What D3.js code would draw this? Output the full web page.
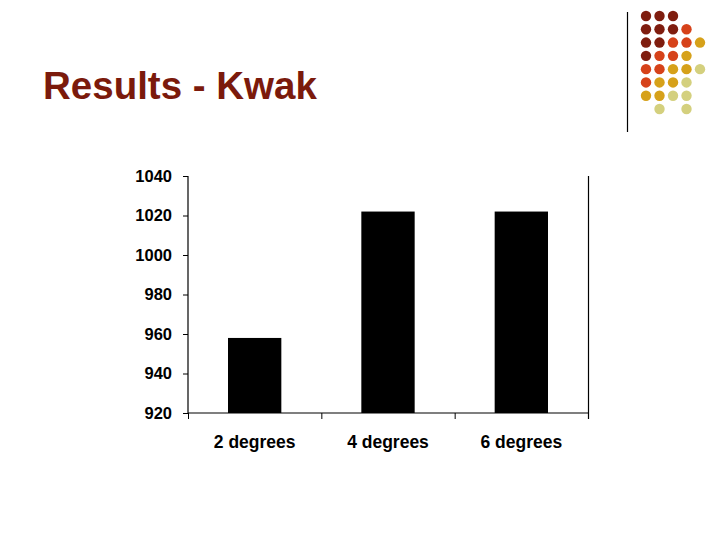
<!DOCTYPE html>
<html><head><meta charset="utf-8">
<script src="https://cdn.jsdelivr.net/npm/d3@7"></script>
<style>body{margin:0;background:#fff;}svg{display:block;}</style>
</head><body>
<svg id="c" width="720" height="540"></svg>
<script>
const title = "Results - Kwak";
const categories = ["2 degrees", "4 degrees", "6 degrees"];
const values = [958, 1022, 1022];
const yTicks = [920, 940, 960, 980, 1000, 1020, 1040];
const yDomain = [920, 1040];
// decorative dot grid: color keys per row ("" = empty)
const dotRows = [
  ["d","d","d","",""],
  ["d","d","d","o",""],
  ["d","d","o","o","g"],
  ["d","o","o","g",""],
  ["o","o","g","g","p"],
  ["o","g","g","p",""],
  ["g","g","p","p",""],
  ["","p","","p",""]
];
const dotColors = {d:"#7f1d0f", o:"#d6421a", g:"#d6a11a", p:"#d4d07e"};

(function(){
const svg = d3.select("#c");
svg.append("rect").attr("width",720).attr("height",540).attr("fill","#fff");

// decoration
svg.append("line").attr("x1",627.5).attr("x2",627.5).attr("y1",12).attr("y2",132)
  .attr("stroke","#000").attr("stroke-width",1.2);
const dx = d3.scaleLinear().domain([0,4]).range([646,700]);
const dy = d3.scaleLinear().domain([0,7]).range([16,109]);
dotRows.forEach((row,r)=>row.forEach((k,c)=>{
  if(!k) return;
  svg.append("circle").attr("cx",dx(c)).attr("cy",dy(r)).attr("r",5.2).attr("fill",dotColors[k]);
}));

// title
svg.append("text").attr("x",43).attr("y",99).text(title)
  .attr("font-family","Liberation Sans, Arial, sans-serif").attr("font-weight","bold")
  .attr("font-size",38.5).attr("fill","#7b1a0c");

// chart
const pL=188, pR=588, pT=176, pB=413;
const x = d3.scaleBand().domain(categories).range([pL,pR]).paddingInner(0.6).paddingOuter(0.3);
const y = d3.scaleLinear().domain(yDomain).range([pB,pT]);

svg.selectAll("rect.bar").data(values).enter().append("rect").attr("class","bar")
  .attr("x",(d,i)=>x(categories[i])).attr("width",x.bandwidth())
  .attr("y",d=>y(d)).attr("height",d=>pB-y(d)).attr("fill","#000");

const font = "Liberation Sans, Arial, sans-serif";
const yAxis = svg.append("g").attr("transform",`translate(${pL},0)`)
  .call(d3.axisLeft(y).tickValues(yTicks).tickFormat(d3.format("d")).tickSize(5).tickPadding(11));
yAxis.select(".domain").attr("d",`M0,${pT}V${pB}`).attr("stroke-width",1.2);
yAxis.selectAll("text").attr("font-family",font).attr("font-weight","bold").attr("font-size",16.5).attr("fill","#000");

const xb = d3.scalePoint().domain([0,1,2,3]).range([pL,pR]);
const xAxis = svg.append("g").attr("transform",`translate(0,${pB})`)
  .call(d3.axisBottom(xb).tickSize(6).tickFormat(""));
xAxis.select(".domain").attr("d",`M${pL},0H${pR}`).attr("stroke-width",1.2);
svg.append("g").attr("transform",`translate(0,${pB})`).selectAll("text").data(categories).enter()
  .append("text").attr("x",d=>x(d)+x.bandwidth()/2).attr("y",35).attr("text-anchor","middle")
  .attr("font-family",font).attr("font-weight","bold").attr("font-size",17.5).text(d=>d);

// right border line
svg.append("line").attr("x1",pR+0.5).attr("x2",pR+0.5).attr("y1",pT).attr("y2",pB+6)
  .attr("stroke","#000").attr("stroke-width",1.2);
})();
</script>
</body></html>
